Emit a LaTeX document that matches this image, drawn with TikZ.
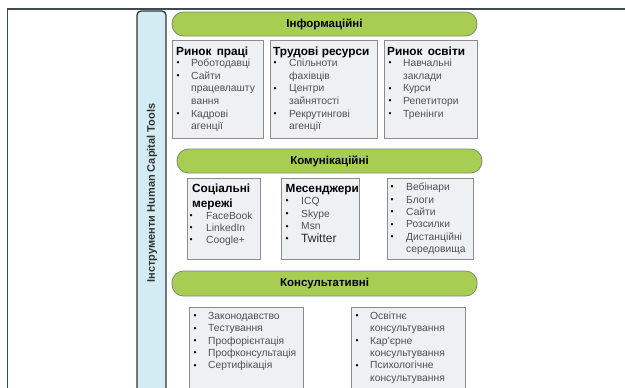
\documentclass[tikz,border=0pt]{standalone}
\usepackage{fontspec}
\setmainfont{Liberation Sans}
\definecolor{framec}{HTML}{3E4A50}
\definecolor{barfill}{HTML}{D3ECF3}
\definecolor{pillfill}{HTML}{A7CE52}
\definecolor{pilledge}{HTML}{7E8A72}
\definecolor{boxfill}{HTML}{EEF0F4}
\definecolor{boxedge}{HTML}{8C8C8C}
\definecolor{itemtext}{HTML}{505050}
\newcommand\tw{\fontsize{12}{12}\selectfont\color{black!85}Twitter}
\newcommand\itemlist[6]{%
  \foreach \t/\b [count=\i] in {#6} {
    \node[itemtxt] (#1t\i) at (#3,{#4+(\i-1)*#5}) {\t};
    \ifnum\b=1 \node[bul] (#1b\i) at (#2,{#4+(\i-1)*#5}) {•};\fi
  }}
\tikzset{
  pill/.style={draw=pilledge, fill=pillfill, line width=0.8pt, rounded corners=11.5pt,
    minimum width=305pt, minimum height=24pt, inner sep=0pt,
    font=\bfseries\fontsize{11.5}{13}\selectfont},
  infobox/.style={draw=boxedge, fill=boxfill, line width=1pt, inner sep=0pt},
  titletxt/.style={anchor=west, inner sep=0pt, text height=9pt, text depth=2.5pt,
    font=\bfseries\fontsize{11.8}{13}\selectfont},
  itemtxt/.style={anchor=west, inner sep=0pt, text height=7.5pt, text depth=2.2pt,
    text=itemtext, font=\fontsize{10.3}{12}\selectfont},
  bul/.style={inner sep=0pt, font=\fontsize{8.5}{9}\selectfont, text=black},
  sidebar/.style={draw=black!80, fill=barfill, line width=1.3pt, rounded corners=4pt,
    minimum width=29pt, minimum height=392pt, inner sep=0pt}
}
\begin{document}
\begin{tikzpicture}[x=1pt,y=-1pt]
\useasboundingbox (0,0) rectangle (625,388);
\fill[white] (0,0) rectangle (625,388);
\draw[framec, line width=1pt] (7,392) -- (7,9);
\draw[framec, line width=1.6pt] (6.5,9) -- (630,9);

% side bar
\node[sidebar] (bar) at (151.5,207) {};
\node[rotate=90, font=\bfseries\fontsize{11}{12}\selectfont, text=black!80] (bartxt) at (152,193) {Інструменти Human Capital Tools};

% headers
\node[pill] (p1) at (324.5,24) {Інформаційні};
\node[pill] (p2) at (329.5,161) {Комунікаційні};
\node[pill, minimum height=25pt] (p3) at (324.5,283.5) {Консультативні};

% boxes row 1
\node[infobox, minimum width=91pt, minimum height=98pt] (b11) at (217.5,89) {};
\node[infobox, minimum width=107pt, minimum height=98pt] (b12) at (323.5,89) {};
\node[infobox, minimum width=93pt, minimum height=98pt] (b13) at (430.5,89) {};
% boxes row 2
\node[infobox, minimum width=73pt, minimum height=81pt] (b21) at (223.5,218.5) {};
\node[infobox, minimum width=78pt, minimum height=81pt] (b22) at (320,218.5) {};
\node[infobox, minimum width=86pt, minimum height=81pt] (b23) at (430,218.5) {};
% boxes row 3
\node[infobox, minimum width=114pt, minimum height=93pt] (b31) at (246,353.5) {};
\node[infobox, minimum width=114pt, minimum height=93pt] (b32) at (408,353.5) {};

% titles
\node[titletxt] (t11) at (176,52) {Ринок\hspace{2pt} праці};
\node[titletxt] (t12) at (273,52) {Трудові ресурси};
\node[titletxt] (t13) at (387,52) {Ринок\hspace{2pt} освіти};
\node[titletxt] (t21a) at (192,189) {Соціальні};
\node[titletxt] (t21b) at (192,204) {мережі};
\node[titletxt] (t22) at (285.5,189) {Месенджери};

% items
\itemlist{a}{178}{191}{64}{12.6}{Роботодавці/1,Сайти/1,працевлашту/0,вання/0,Кадрові/1,агенції/0}
\itemlist{c}{275}{289}{64}{12.6}{Спільноти/1,фахівців/0,Центри/1,зайнятості/0,Рекрутингові/1,агенції/0}
\itemlist{e}{390}{403}{64}{12.6}{Навчальні/1,заклади/0,Курси/1,Репетитори/1,Тренінги/1}
\itemlist{f}{191}{206}{217}{12}{FaceBook/1,LinkedIn/1,Coogle+/1}
\itemlist{g}{287}{301}{202}{12.6}{ICQ/1,Skype/1,Msn/1,\tw/1}
\itemlist{h}{392}{406}{188}{12.4}{Вебінари/1,Блоги/1,Сайти/1,Розсилки/1,Дистанційні/1,середовища/0}
\itemlist{k}{195}{208}{317}{12.3}{Законодавство/1,Тестування/1,Профорієнтація/1,Профконсультація/1,Сертифікація/1}
\itemlist{m}{357}{370}{317}{12.3}{Освітнє/1,консультування/0,Кар’єрне/1,консультування/0,Психологічне/1,консультування/0}
\end{tikzpicture}
\end{document}
